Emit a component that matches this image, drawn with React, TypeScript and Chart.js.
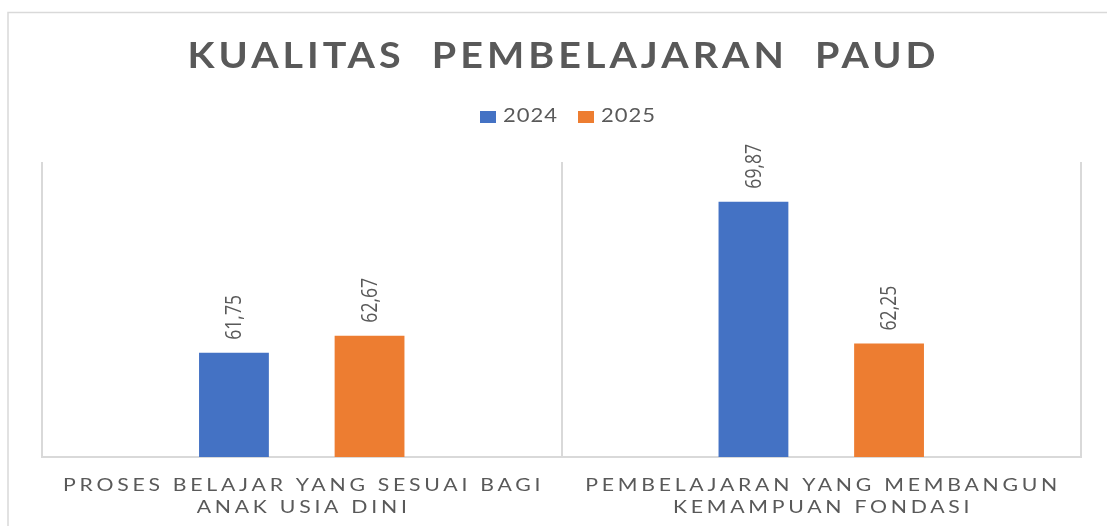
import React, { useEffect, useRef } from "react";
import { Chart, registerables } from "chart.js";

Chart.register(...registerables);

// ---- data ----
const TITLE = "KUALITAS  PEMBELAJARAN  PAUD";
const CATEGORIES: string[][] = [
  ["PROSES BELAJAR YANG SESUAI BAGI", "ANAK USIA DINI"],
  ["PEMBELAJARAN YANG MEMBANGUN", "KEMAMPUAN FONDASI"],
];
const SERIES_NAMES = ["2024", "2025"];
const VALUES_2024 = [61.75, 69.87];
const VALUES_2025 = [62.67, 62.25];
const Y_MIN = 56.15;
const Y_MAX = 72;

// ---- style ----
const W = 1107;
const H = 526;
const COLORS = ["#4472C4", "#ED7D31"];
const TEXT = "#595959";
const GRID = "#d9d9d9";
const FONT = "Lato, 'Open Sans', 'Liberation Sans', sans-serif";
const LABEL_FONT = "'Open Sans', 'Liberation Sans', sans-serif";

const fmt = (v: number) => v.toFixed(2).replace(".", ",");

function baseWidth(ctx: any, text: string) {
  ctx.letterSpacing = "0px";
  return ctx.measureText(text).width;
}
// width of text drawn with horizontal scale s and letter spacing L (page px)
function textWidth(ctx: any, text: string, s: number, L: number) {
  return baseWidth(ctx, text) * s + L * (text.length - 1);
}
function drawText(ctx: any, text: string, x: number, y: number, s: number, L: number, align: "center" | "left") {
  const w = textWidth(ctx, text, s, L);
  const sx = align === "center" ? x - w / 2 : x;
  ctx.save();
  ctx.translate(sx, y);
  ctx.scale(s, 1);
  ctx.letterSpacing = L / s + "px";
  ctx.textAlign = "left";
  ctx.fillText(text, 0, 0);
  ctx.restore();
  ctx.letterSpacing = "0px";
  return w;
}

const decorPlugin = {
  id: "decor",
  beforeDraw(chart: any) {
    const ctx = chart.ctx;
    ctx.save();
    ctx.fillStyle = "#ffffff";
    ctx.fillRect(0, 0, W, H);
    ctx.strokeStyle = GRID;
    ctx.lineWidth = 1.5;
    ctx.beginPath();
    ctx.moveTo(8, H);
    ctx.lineTo(8, 12.5);
    ctx.lineTo(W, 12.5);
    ctx.stroke();
    ctx.restore();
  },
  afterDatasetsDraw(chart: any) {
    const ctx = chart.ctx;
    ctx.save();
    ctx.fillStyle = TEXT;
    ctx.font = `22px ${LABEL_FONT}`;
    ctx.textBaseline = "middle";
    ctx.textAlign = "left";
    chart.data.datasets.forEach((ds: any, di: number) => {
      const meta = chart.getDatasetMeta(di);
      meta.data.forEach((bar: any, i: number) => {
        const label = fmt(ds.data[i]);
        ctx.save();
        ctx.translate(bar.x, bar.y - 13);
        ctx.rotate(-Math.PI / 2);
        ctx.scale(0.8, 1);
        ctx.fillText(label, 0, 1);
        ctx.restore();
      });
    });
    ctx.restore();
  },
  afterDraw(chart: any) {
    const ctx = chart.ctx;
    const area = chart.chartArea;
    const cx = (area.left + area.right) / 2;
    ctx.save();
    ctx.fillStyle = TEXT;
    ctx.textBaseline = "alphabetic";

    // title
    ctx.font = `bold 36px ${FONT}`;
    const tL = 4;
    const tS = (748 - tL * (TITLE.length - 1)) / baseWidth(ctx, TITLE);
    drawText(ctx, TITLE, cx, 68, tS, tL, "center");

    // legend
    ctx.font = `20px ${FONT}`;
    const lL = 1;
    const lS = (54 - lL * (SERIES_NAMES[0].length - 1)) / baseWidth(ctx, SERIES_NAMES[0]);
    const boxW = 16, boxH = 12, gap = 7, itemGap = 21;
    const widths = SERIES_NAMES.map((n) => textWidth(ctx, n, lS, lL));
    const total = widths.reduce((a, w) => a + boxW + gap + w, 0) + itemGap * (SERIES_NAMES.length - 1);
    let lx = cx + 6 - total / 2;
    SERIES_NAMES.forEach((n, i) => {
      ctx.fillStyle = COLORS[i];
      ctx.fillRect(lx, 111, boxW, boxH);
      ctx.fillStyle = TEXT;
      lx += boxW + gap;
      drawText(ctx, n, lx, 122, lS, lL, "left");
      lx += widths[i] + itemGap;
    });

    // category labels
    ctx.font = `18px ${FONT}`;
    const xs = chart.scales.x;
    const cS = 1.18;
    const ref = CATEGORIES[1][0];
    const cL = (472 - baseWidth(ctx, ref) * cS) / (ref.length - 1);
    CATEGORIES.forEach((lines, i) => {
      const px = xs.getPixelForValue(i);
      lines.forEach((line, li) => {
        drawText(ctx, line, px, 491 + li * 22, cS, cL, "center");
      });
    });
    ctx.restore();
  },
};

export default function App() {
  const ref = useRef<HTMLCanvasElement | null>(null);
  useEffect(() => {
    if (!ref.current) return;
    const chart = new Chart(ref.current, {
      type: "bar",
      data: {
        labels: CATEGORIES,
        datasets: [
          {
            label: SERIES_NAMES[0],
            data: VALUES_2024,
            backgroundColor: COLORS[0],
            borderWidth: 0,
            categoryPercentage: 0.522,
            barPercentage: 0.515,
          },
          {
            label: SERIES_NAMES[1],
            data: VALUES_2025,
            backgroundColor: COLORS[1],
            borderWidth: 0,
            categoryPercentage: 0.522,
            barPercentage: 0.515,
          },
        ],
      },
      options: {
        responsive: false,
        animation: false,
        devicePixelRatio: 1,
        layout: { padding: { left: 42, right: 26, top: 162, bottom: 69 } },
        plugins: {
          legend: { display: false },
          title: { display: false },
          tooltip: { enabled: false },
        },
        scales: {
          x: {
            offset: true,
            grid: { display: true, offset: true, color: GRID, lineWidth: 2, drawTicks: false },
            border: { display: true, color: GRID, width: 2 },
            ticks: { display: false },
          },
          y: {
            display: false,
            min: Y_MIN,
            max: Y_MAX,
          },
        },
      },
      plugins: [decorPlugin],
    });
    return () => chart.destroy();
  }, []);
  return (
    <div style={{ position: "fixed", left: 0, top: 0, width: W, height: H, background: "#fff" }}>
      <canvas ref={ref} width={W} height={H} style={{ display: "block", width: W, height: H }} />
    </div>
  );
}
